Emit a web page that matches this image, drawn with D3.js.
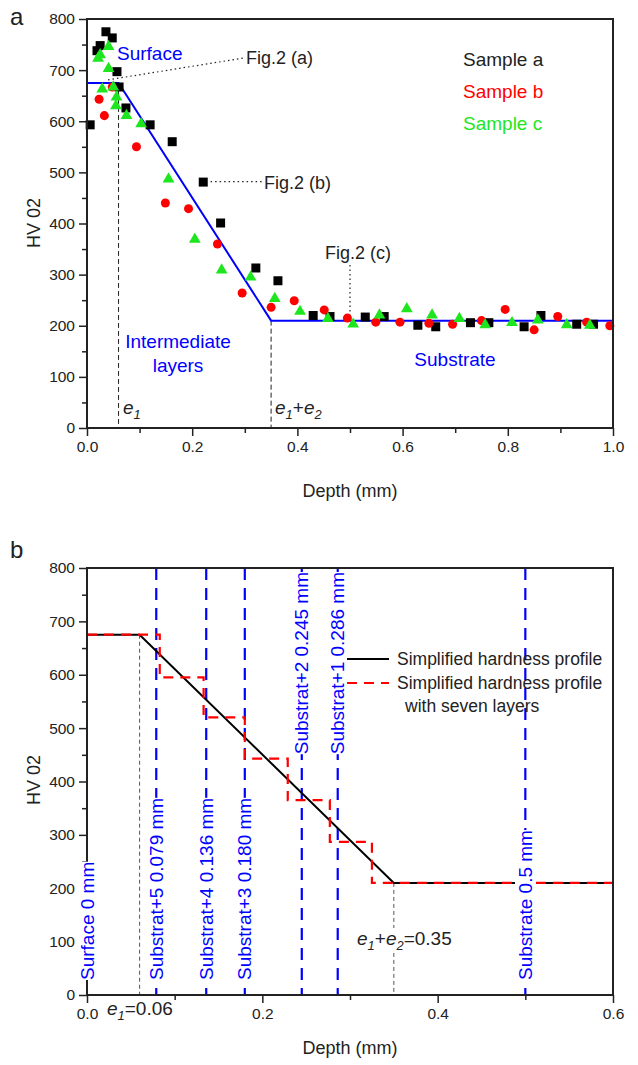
<!DOCTYPE html>
<html>
<head>
<meta charset="utf-8">
<script src="https://cdn.jsdelivr.net/npm/d3@7"></script>
<style>
  body { margin: 0; background: #fff; }
  svg { display: block; font-family: "Liberation Sans", Arial, sans-serif; }
  .tick text { font-size: 15.5px; fill: #222; }
  .tick line { stroke: #222; stroke-width: 1.5; }
  .domain { display: none; }
</style>
</head>
<body>
<svg id="chart" width="638" height="1065"></svg>
<script>
// ---- data ----
// panel a : measured hardness, [depth mm, HV]
const sampleA = [[0.006,593],[0.019,738],[0.025,748],[0.036,775],[0.048,763],[0.057,697],[0.061,667],[0.074,626],[0.12,593],[0.162,560],[0.221,481],[0.254,401],[0.321,313],[0.363,288],[0.43,220],[0.462,218],[0.529,217],[0.565,218],[0.629,201],[0.663,198],[0.729,206],[0.764,206],[0.831,198],[0.863,220],[0.931,203],[0.963,203]];
const sampleB = [[0.023,643],[0.033,611],[0.048,667],[0.094,550],[0.149,440],[0.193,429],[0.248,360],[0.295,264],[0.35,236],[0.394,249],[0.451,231],[0.495,215],[0.549,207],[0.595,207],[0.65,205],[0.695,203],[0.75,210],[0.795,232],[0.85,192],[0.895,218],[0.95,207],[0.994,200]];
const sampleC = [[0.021,723],[0.025,730],[0.041,746],[0.041,703],[0.029,663],[0.05,667],[0.056,647],[0.055,630],[0.075,611],[0.103,595],[0.155,487],[0.205,369],[0.256,309],[0.311,295],[0.357,253],[0.405,228],[0.458,214],[0.506,203],[0.556,221],[0.608,233],[0.656,221],[0.708,214],[0.757,202],[0.808,206],[0.857,211],[0.912,202],[0.956,201]];
const profileDepth = [0, 0.06, 0.35, 1.0];
const profileHV = [675, 675, 210, 210];
const sampleNames = ["Sample a", "Sample b", "Sample c"];

// panel b : simplified profile and seven layers
const simpleDepth = [0, 0.06, 0.35, 0.6];
const simpleHV = [675, 675, 210, 210];
const layerEdges = [0, 0.083, 0.133, 0.180, 0.229, 0.277, 0.325, 0.6];
const layerHV = [675, 595, 520, 443, 365, 287, 210];
const cutDepths = [0, 0.079, 0.136, 0.180, 0.245, 0.286, 0.5];
const cutLabels = ["Surface 0 mm", "Substrat+5 0.079 mm", "Substrat+4 0.136 mm", "Substrat+3 0.180 mm", "Substrat+2 0.245 mm", "Substrat+1 0.286 mm", "Substrate 0.5 mm"];
const cutAtTop = [false, false, false, false, true, true, false];
const legendB = ["Simplified hardness profile", "Simplified hardness profile", "with seven layers"];

const hvTicks = d3.range(0, 801, 100);
const hvMinor = d3.range(50, 800, 100);
const depthTicksA = [0, 0.2, 0.4, 0.6, 0.8, 1.0];
const depthMinorA = [0.1, 0.3, 0.5, 0.7, 0.9];
const depthTicksB = [0, 0.2, 0.4, 0.6];
const depthMinorB = [0.1, 0.3, 0.5];

const BLUE = "#0000ff", RED = "#ff0000", GREEN = "#1ee61e", INK = "#222";

const svg = d3.select("#chart");
svg.append("rect").attr("width", 638).attr("height", 1065).attr("fill", "#fff");

function drawAxes(g, x, y, xt, xm, left, right, top, bottom) {
  g.append("g").attr("transform", `translate(0,${bottom})`)
    .call(d3.axisBottom(x).tickValues(xt).tickSize(8).tickPadding(5).tickFormat(d3.format(".1f")));
  g.append("g").attr("transform", `translate(0,${bottom})`)
    .call(d3.axisBottom(x).tickValues(xm).tickSize(5).tickFormat(""));
  g.append("g").attr("transform", `translate(${left},0)`)
    .call(d3.axisLeft(y).tickValues(hvTicks).tickSize(8).tickPadding(4).tickFormat(d3.format("d")));
  g.append("g").attr("transform", `translate(${left},0)`)
    .call(d3.axisLeft(y).tickValues(hvMinor).tickSize(5).tickFormat(""));
}
function frame(g, left, right, top, bottom) {
  g.append("rect").attr("x", left).attr("y", top).attr("width", right - left).attr("height", bottom - top)
    .attr("fill", "none").attr("stroke", INK).attr("stroke-width", 2);
}
function txt(g, x, y, s, opt = {}) {
  return g.append("text").attr("x", x).attr("y", y).text(s)
    .attr("font-size", opt.size || 19).attr("fill", opt.fill || INK)
    .attr("text-anchor", opt.anchor || "start");
}
// e_1 / e_1+e_2 style labels
function eLabel(g, x, y, tail, both, size) {
  const t = g.append("text").attr("x", x).attr("y", y).attr("font-size", size).attr("fill", INK);
  t.append("tspan").attr("font-style", "italic").text("e");
  t.append("tspan").attr("font-style", "italic").attr("font-size", size * 0.68).attr("dy", 5).text("1");
  if (both) {
    t.append("tspan").attr("dy", -5).text("+");
    t.append("tspan").attr("font-style", "italic").text("e");
    t.append("tspan").attr("font-style", "italic").attr("font-size", size * 0.68).attr("dy", 5).text("2");
  }
  if (tail) t.append("tspan").attr("dy", -5).text(tail);
  return t;
}
function whiteBehind(el, pad) {
  const b = el.node().getBBox();
  d3.select(el.node().parentNode).insert("rect", () => el.node())
    .attr("x", b.x - pad).attr("y", b.y).attr("width", b.width + 2 * pad).attr("height", b.height)
    .attr("fill", "#fff").attr("transform", el.attr("transform"));
}

// ================= panel a =================
const xA = d3.scaleLinear().domain([0, 1]).range([87, 613]);
const yA = d3.scaleLinear().domain([0, 800]).range([428, 19]);
const gA = svg.append("g");

drawAxes(gA, xA, yA, depthTicksA, depthMinorA, 87, 613, 19, 428);

// dashed guides at e1 and e1+e2
[[profileDepth[1], profileHV[1]], [profileDepth[2], profileHV[2]]].forEach(([d, v]) => {
  gA.append("line").attr("x1", xA(d)).attr("x2", xA(d)).attr("y1", yA(v)).attr("y2", yA(0))
    .attr("stroke", INK).attr("stroke-width", 1).attr("stroke-dasharray", "5,3");
});

// dotted pointers to Fig.2
const dotted = (d1, v1, d2, v2) => gA.append("line")
  .attr("x1", xA(d1)).attr("y1", yA(v1)).attr("x2", xA(d2)).attr("y2", yA(v2))
  .attr("stroke", INK).attr("stroke-width", 1.2).attr("stroke-dasharray", "1.5,3");
dotted(0.04, 681, 0.30, 724);
dotted(0.235, 482, 0.335, 482);
dotted(0.5, 319, 0.5, 215);

const lineA = d3.line().x(d => xA(d[0])).y(d => yA(d[1]));
gA.append("path").datum(profileDepth.map((d, i) => [d, profileHV[i]]))
  .attr("d", lineA).attr("fill", "none").attr("stroke", BLUE).attr("stroke-width", 2);

const sym = d3.symbol();
[[sampleA, d3.symbolSquare, 81, "#000"], [sampleB, d3.symbolCircle, 64, RED], [sampleC, d3.symbolTriangle, 60, GREEN]]
  .forEach(([data, type, size, col]) => {
    gA.append("g").selectAll("path").data(data).enter().append("path")
      .attr("transform", d => `translate(${xA(d[0])},${yA(d[1])})`)
      .attr("d", sym.type(type).size(size)()).attr("fill", col);
  });

frame(gA, 87, 613, 19, 428);

txt(gA, 117, 60, "Surface", { fill: BLUE });
txt(gA, 246, 64, "Fig.2 (a)", { size: 18 });
txt(gA, 264, 189, "Fig.2 (b)", { size: 18 });
txt(gA, 325, 259, "Fig.2 (c)", { size: 18 });
txt(gA, 178, 348, "Intermediate", { fill: BLUE, anchor: "middle" });
txt(gA, 178, 372, "layers", { fill: BLUE, anchor: "middle" });
txt(gA, 455, 366, "Substrate", { fill: BLUE, anchor: "middle" });
[INK, RED, GREEN].forEach((c, i) => txt(gA, 463, 66 + i * 32, sampleNames[i], { fill: c }));
eLabel(gA, 123, 414, "", false, 19);
eLabel(gA, 275, 414, "", true, 19);

txt(gA, 350, 497, "Depth (mm)", { size: 18, anchor: "middle" });
gA.append("text").attr("transform", "translate(40,223) rotate(-90)").attr("text-anchor", "middle")
  .attr("font-size", 18).attr("fill", INK).text("HV 02");
txt(svg, 10, 25, "a", { size: 24 });

// ================= panel b =================
const xB = d3.scaleLinear().domain([0, 0.6]).range([87, 613]);
const yB = d3.scaleLinear().domain([0, 800]).range([995, 568]);
const gB = svg.append("g");

drawAxes(gB, xB, yB, depthTicksB, depthMinorB, 87, 613, 568, 995);

// thin grey guides
[[simpleDepth[1], simpleHV[1]], [simpleDepth[2], simpleHV[2]]].forEach(([d, v]) => {
  gB.append("line").attr("x1", xB(d)).attr("x2", xB(d)).attr("y1", yB(v)).attr("y2", yB(0))
    .attr("stroke", "#555").attr("stroke-width", 1).attr("stroke-dasharray", "4,3");
});

// blue dashed cut lines
cutDepths.forEach(d => {
  if (d === 0) return;
  gB.append("line").attr("x1", xB(d)).attr("x2", xB(d)).attr("y1", yB(800)).attr("y2", yB(0))
    .attr("stroke", BLUE).attr("stroke-width", 2.2).attr("stroke-dasharray", "12,8");
});

const lineB = d3.line().x(d => xB(d[0])).y(d => yB(d[1]));
gB.append("path").datum(simpleDepth.map((d, i) => [d, simpleHV[i]]))
  .attr("d", lineB).attr("fill", "none").attr("stroke", "#000").attr("stroke-width", 2);

const steps = layerHV.map((v, i) => [layerEdges[i], v]);
steps.push([layerEdges[layerEdges.length - 1], layerHV[layerHV.length - 1]]);
gB.append("path").datum(steps).attr("d", lineB.curve(d3.curveStepAfter))
  .attr("fill", "none").attr("stroke", RED).attr("stroke-width", 2.2).attr("stroke-dasharray", "10,7");

frame(gB, 87, 613, 568, 995);

// rotated cut labels with white boxes
cutDepths.forEach((d, i) => {
  const x = xB(d);
  const t = gB.append("text")
    .attr("transform", cutAtTop[i] ? `translate(${x},572) rotate(-90)` : `translate(${x},980) rotate(-90)`)
    .attr("text-anchor", cutAtTop[i] ? "end" : "start")
    .attr("dy", "0.35em").attr("font-size", 19).attr("fill", BLUE).text(cutLabels[i]);
  whiteBehind(t, 0);
});

// legend
gB.append("line").attr("x1", 347).attr("x2", 389).attr("y1", 659).attr("y2", 659)
  .attr("stroke", "#000").attr("stroke-width", 2);
gB.append("line").attr("x1", 347).attr("x2", 389).attr("y1", 683).attr("y2", 683)
  .attr("stroke", RED).attr("stroke-width", 2.2).attr("stroke-dasharray", "10,7");
txt(gB, 397, 665, legendB[0], { size: 17.5 });
txt(gB, 397, 689, legendB[1], { size: 17.5 });
txt(gB, 405, 712, legendB[2], { size: 17.5 });

const e2 = eLabel(gB, 357, 945, "=0.35", true, 19);
whiteBehind(e2, 1);
eLabel(gB, 107, 1015, "=0.06", false, 19);

txt(gB, 350, 1054, "Depth (mm)", { size: 18, anchor: "middle" });
gB.append("text").attr("transform", "translate(40,780) rotate(-90)").attr("text-anchor", "middle")
  .attr("font-size", 18).attr("fill", INK).text("HV 02");
txt(svg, 10, 558, "b", { size: 24 });
</script>
</body>
</html>
